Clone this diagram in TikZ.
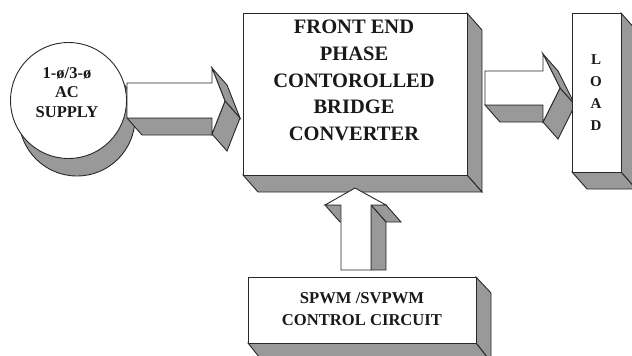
\documentclass[tikz,border=0pt]{standalone}
\usepackage{fontspec}
\setmainfont{Liberation Serif}
\definecolor{shade}{RGB}{153,153,153}
\definecolor{edge}{RGB}{40,40,40}
\tikzset{
  front/.style={fill=white,draw=edge,line width=0.9pt,line join=miter},
  side/.style={fill=shade,draw=edge,line width=0.9pt,line join=miter},
  lbl/.style={font=\bfseries,align=center,inner sep=0pt,text=black!90}
}
\begin{document}
\begin{tikzpicture}[x=1pt,y=-1pt]
\useasboundingbox (0,0) rectangle (632,356);
% ---- AC supply cylinder shadow
\draw[side] (77,118) circle[radius=58];
% ---- left 3D arrow
\draw[side] (127,118)--(212,118)--(227,135)--(142,135)--cycle;
\draw[side] (212,68)--(225,101)--(240,118)--(227,85)--cycle;
\draw[side] (225,101)--(212,134)--(227,151)--(240,118)--cycle;
\draw[front] (127,83)--(212,83)--(212,68)--(225,101)--(212,134)--(212,118)--(127,118)--cycle;
% ---- AC supply
\draw[front] (68.5,100.5) circle[radius=58];
\node[lbl,font=\bfseries\fontsize{16.5}{19.5}\selectfont] (ac) at (67,92.5) {1-ø/3-ø\\AC\\SUPPLY};
% ---- right 3D arrow
\draw[side] (485,105)--(543,105)--(558,122)--(500,122)--cycle;
\draw[side] (543,54)--(560,88)--(575,105)--(558,71)--cycle;
\draw[side] (560,88)--(543,122)--(558,139)--(575,105)--cycle;
\draw[front] (485,71)--(543,71)--(543,54)--(560,88)--(543,122)--(543,105)--(485,105)--cycle;
% ---- main converter box
\draw[side] (467,13)--(482,30)--(482,192)--(467,175)--cycle;
\draw[side] (243,175)--(467,175)--(482,192)--(258,192)--cycle;
\draw[front] (243,13) rectangle (467,175);
\node[lbl,font=\bfseries\fontsize{20.5}{26.8}\selectfont] (conv) at (354,80.5) {FRONT END\\PHASE\\CONTOROLLED\\BRIDGE\\CONVERTER};
% ---- up 3D arrow
\draw[side] (325,205)--(341,205)--(356,222)--(340,222)--cycle;
\draw[side] (371,205)--(386,205)--(401,222)--(386,222)--cycle;
\draw[side] (371,205)--(386,222)--(386,270)--(371,270)--cycle;
\draw[front] (341,270)--(341,205)--(325,205)--(355,188)--(386,205)--(371,205)--(371,270)--cycle;
% ---- load box
\draw[side] (621,13)--(636,30)--(636,189)--(621,172)--cycle;
\draw[side] (572,172)--(621,172)--(636,189)--(587,189)--cycle;
\draw[front] (572,13) rectangle (621,172);
\node[lbl,font=\bfseries\fontsize{15}{22}\selectfont] (load) at (596,93) {L\\O\\A\\D};
% ---- control circuit box
\draw[side] (476,277)--(491,293)--(491,362)--(476,343)--cycle;
\draw[side] (248,343)--(476,343)--(491,362)--(263,362)--cycle;
\draw[front] (248,277) rectangle (476,343);
\node[lbl,font=\bfseries\fontsize{16.6}{22}\selectfont] (ctrl) at (362,309) {SPWM /SVPWM\\CONTROL CIRCUIT};
\end{tikzpicture}
\end{document}
